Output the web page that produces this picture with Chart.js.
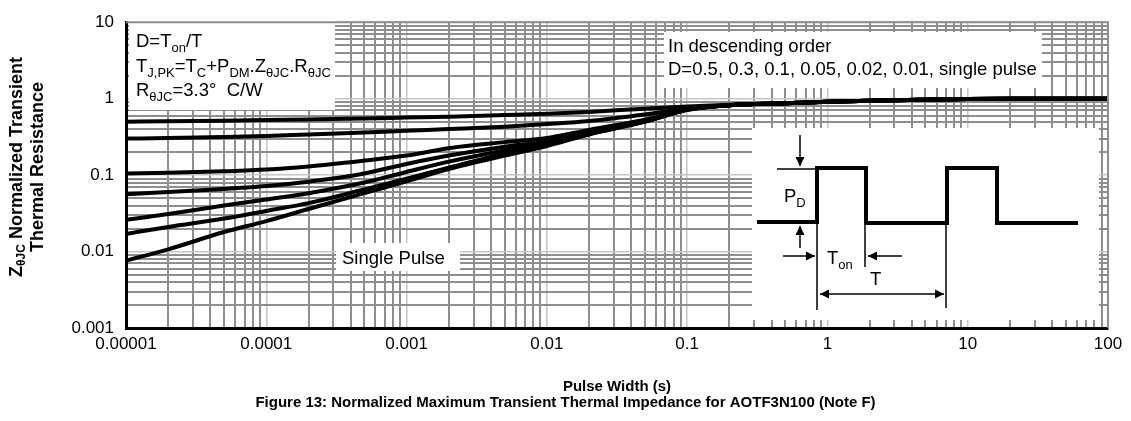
<!DOCTYPE html>
<html>
<head>
<meta charset="utf-8">
<script src="https://cdn.jsdelivr.net/npm/chart.js@4.4.1/dist/chart.umd.min.js"></script>
<style>
  html, body { margin: 0; padding: 0; background: #fff; }
  #chart { display: block; }
</style>
</head>
<body>
<canvas id="chart" width="1131" height="421"></canvas>
<script>
// pulse width (s) and normalized Zth for each duty cycle
const T_PULSE = [1e-5, 2e-5, 5e-5, 1e-4, 2e-4, 5e-4, 1e-3, 2e-3, 5e-3, 1e-2, 2e-2, 5e-2, 0.1, 0.2, 0.5, 1, 2, 5, 10, 20, 50, 100];
const Z_D05    = [0.50, 0.505, 0.515, 0.525, 0.535, 0.55, 0.565, 0.58, 0.61, 0.635, 0.67, 0.74, 0.79, 0.83, 0.87, 0.91, 0.94, 0.97, 0.99, 1.0, 1.0, 1.0];
const Z_D03    = [0.30, 0.305, 0.315, 0.325, 0.34, 0.36, 0.38, 0.40, 0.43, 0.465, 0.51, 0.62, 0.74, 0.82, 0.87, 0.91, 0.94, 0.97, 0.99, 1.0, 1.0, 1.0];
const Z_D01    = [0.105, 0.107, 0.112, 0.118, 0.13, 0.155, 0.18, 0.225, 0.27, 0.305, 0.39, 0.53, 0.72, 0.82, 0.87, 0.91, 0.94, 0.97, 0.99, 1.0, 1.0, 1.0];
const Z_D005   = [0.056, 0.060, 0.066, 0.072, 0.082, 0.105, 0.14, 0.18, 0.235, 0.275, 0.36, 0.51, 0.72, 0.82, 0.87, 0.91, 0.94, 0.97, 0.99, 1.0, 1.0, 1.0];
const Z_D002   = [0.026, 0.031, 0.040, 0.048, 0.058, 0.08, 0.11, 0.15, 0.21, 0.26, 0.35, 0.50, 0.72, 0.82, 0.87, 0.91, 0.94, 0.97, 0.99, 1.0, 1.0, 1.0];
const Z_D001   = [0.017, 0.021, 0.027, 0.034, 0.043, 0.065, 0.09, 0.125, 0.19, 0.245, 0.345, 0.50, 0.72, 0.82, 0.87, 0.91, 0.94, 0.97, 0.99, 1.0, 1.0, 1.0];
const Z_SINGLE = [0.0076, 0.0107, 0.018, 0.025, 0.036, 0.058, 0.083, 0.12, 0.18, 0.24, 0.34, 0.50, 0.71, 0.82, 0.87, 0.91, 0.94, 0.97, 0.99, 1.0, 1.0, 1.0];

const SERIES = [
  ['D=0.5', Z_D05], ['D=0.3', Z_D03], ['D=0.1', Z_D01], ['D=0.05', Z_D005],
  ['D=0.02', Z_D002], ['D=0.01', Z_D001], ['Single Pulse', Z_SINGLE],
];

const X_TICKS = [0.00001, 0.0001, 0.001, 0.01, 0.1, 1, 10, 100];
const X_TICK_LABELS = ['0.00001', '0.0001', '0.001', '0.01', '0.1', '1', '10', '100'];
const Y_TICKS = [0.001, 0.01, 0.1, 1, 10];
const Y_TICK_LABELS = ['0.001', '0.01', '0.1', '1', '10'];

const FONT = 'Arial, "Liberation Sans", sans-serif';

// decade lines plus 2..9 minors
function logGrid(decades) {
  const out = [];
  decades.forEach((d, i) => {
    out.push(d);
    if (i < decades.length - 1) for (let m = 2; m <= 9; m++) out.push(d * m);
  });
  return out;
}
const isDecade = v => Math.abs(Math.log10(v) - Math.round(Math.log10(v))) < 1e-6;

const gridStyle = {
  drawTicks: false,
  color: ctx => (ctx.tick && isDecade(ctx.tick.value)) ? '#c6c6c6' : '#8e8e8e',
  lineWidth: ctx => (ctx.tick && isDecade(ctx.tick.value)) ? 1.5 : 2,
};

// text with subscript runs: parts = [[text, isSub], ...]
function richWidth(c, parts, size, weight) {
  let w = 0;
  parts.forEach(([t, sub]) => {
    c.font = `${weight} ${sub ? Math.round(size * 0.68) : size}px ${FONT}`;
    w += c.measureText(t).width;
  });
  return w;
}
function drawRich(c, x, y, parts, size, weight = '') {
  parts.forEach(([t, sub]) => {
    c.font = `${weight} ${sub ? Math.round(size * 0.68) : size}px ${FONT}`;
    c.fillText(t, x, y + (sub ? size * 0.28 : 0));
    x += c.measureText(t).width;
  });
}
function arrow(c, x1, y1, x2, y2) {
  const a = Math.atan2(y2 - y1, x2 - x1), h = 9, w = 4.5;
  c.beginPath(); c.moveTo(x1, y1); c.lineTo(x2, y2); c.stroke();
  c.beginPath();
  c.moveTo(x2, y2);
  c.lineTo(x2 - h * Math.cos(a) + w * Math.sin(a), y2 - h * Math.sin(a) - w * Math.cos(a));
  c.lineTo(x2 - h * Math.cos(a) - w * Math.sin(a), y2 - h * Math.sin(a) + w * Math.cos(a));
  c.closePath(); c.fill();
}

const decor = {
  id: 'decor',
  beforeDatasetsDraw(chart) {
    const c = chart.ctx;
    c.save();
    c.fillStyle = '#fff';
    // white text panels over the grid
    c.fillRect(129, 21, 206, 89);
    c.fillRect(664, 32, 378, 56);
    c.fillRect(336, 243, 124, 28);
    c.fillRect(752, 128, 347, 192);
    c.restore();
  },
  afterDatasetsDraw(chart) {
    const c = chart.ctx;
    c.save();
    c.fillStyle = '#000';
    c.textBaseline = 'alphabetic';
    c.textAlign = 'left';
    const s = 18.5;
    drawRich(c, 136, 47, [['D=T'], ['on', 1], ['/T']], s);
    drawRich(c, 136, 72, [['T'], ['J,PK', 1], ['=T'], ['C', 1], ['+P'], ['DM', 1], ['.Z'], ['θJC', 1], ['.R'], ['θJC', 1]], s);
    drawRich(c, 136, 96, [['R'], ['θJC', 1], ['=3.3°  C/W']], s);
    drawRich(c, 668, 52, [['In descending order']], s);
    drawRich(c, 668, 75, [['D=0.5, 0.3, 0.1, 0.05, 0.02, 0.01, single pulse']], s);
    drawRich(c, 342, 264, [['Single Pulse']], s);

    // pulse train inset
    c.strokeStyle = '#000';
    c.lineWidth = 4;
    c.lineJoin = 'miter';
    c.beginPath();
    [[757, 222], [817, 222], [817, 168], [866, 168], [866, 223], [947, 223], [947, 168], [997, 168], [997, 223], [1078, 223]]
      .forEach(([x, y], i) => i ? c.lineTo(x, y) : c.moveTo(x, y));
    c.stroke();
    c.lineWidth = 1.5;
    c.beginPath();
    c.moveTo(777, 169); c.lineTo(816, 169);
    c.moveTo(817, 224); c.lineTo(817, 310);
    c.moveTo(865, 224); c.lineTo(865, 267);
    c.moveTo(946, 224); c.lineTo(946, 308);
    c.stroke();
    arrow(c, 800, 135, 800, 166);
    arrow(c, 800, 248, 800, 226);
    arrow(c, 783, 256, 815, 256);
    arrow(c, 902, 256, 868, 256);
    arrow(c, 880, 294, 820, 294);
    arrow(c, 880, 294, 944, 294);
    drawRich(c, 784, 202, [['P'], ['D', 1]], s);
    drawRich(c, 827, 264, [['T'], ['on', 1]], s);
    drawRich(c, 870, 285, [['T']], s);
    c.restore();
  },
  afterDraw(chart) {
    const c = chart.ctx, a = chart.chartArea;
    c.save();
    // grey frame on top and right
    c.strokeStyle = '#8e8e8e';
    c.lineWidth = 2;
    c.beginPath();
    c.moveTo(a.left, a.top); c.lineTo(a.right, a.top); c.lineTo(a.right, a.bottom);
    c.stroke();

    c.fillStyle = '#000';
    c.textBaseline = 'middle';
    // y axis title, two rotated lines
    const ys = 18, cy = 167;
    c.translate(17, cy);
    c.rotate(-Math.PI / 2);
    const l1 = [['Z'], ['θJC', 1], [' Normalized Transient']];
    drawRich(c, -richWidth(c, l1, ys, 'bold') / 2, 0, l1, ys, 'bold');
    const l2 = [['Thermal Resistance']];
    drawRich(c, -richWidth(c, l2, ys, 'bold') / 2, 21, l2, ys, 'bold');
    c.setTransform(1, 0, 0, 1, 0, 0);

    c.textAlign = 'center';
    c.font = `bold 15px ${FONT}`;
    c.fillText('Pulse Width (s)', (a.left + a.right) / 2, 387);
    c.fillText('Figure 13: Normalized Maximum Transient Thermal Impedance for AOTF3N100 (Note F)', chart.width / 2, 403);
    c.restore();
  },
};

new Chart(document.getElementById('chart'), {
  type: 'line',
  data: {
    datasets: SERIES.map(([label, z]) => ({
      label,
      data: T_PULSE.map((t, i) => ({ x: t, y: z[i] })),
      borderColor: '#000',
      borderWidth: 4,
      pointRadius: 0,
      fill: false,
      cubicInterpolationMode: 'monotone',
    })),
  },
  options: {
    responsive: false,
    devicePixelRatio: 1,
    animation: false,
    layout: { padding: { left: 0, right: 23, top: 18, bottom: 0 } },
    plugins: { legend: { display: false }, tooltip: { enabled: false } },
    scales: {
      x: {
        type: 'logarithmic',
        min: 0.00001,
        max: 100,
        afterBuildTicks: s => { s.ticks = logGrid(X_TICKS).map(value => ({ value })); },
        afterFit: s => { s.height = 93; },
        ticks: {
          autoSkip: false,
          maxRotation: 0,
          padding: 6,
          color: '#000',
          font: { family: FONT, size: 17 },
          callback: v => { const i = X_TICKS.indexOf(v); return i >= 0 ? X_TICK_LABELS[i] : ''; },
        },
        grid: gridStyle,
        border: { display: true, color: '#000', width: 3 },
      },
      y: {
        type: 'logarithmic',
        min: 0.001,
        max: 10,
        afterBuildTicks: s => { s.ticks = logGrid(Y_TICKS).map(value => ({ value })); },
        afterFit: s => { s.width = 126; },
        ticks: {
          autoSkip: false,
          padding: 12,
          color: '#000',
          font: { family: FONT, size: 17 },
          callback: v => { const i = Y_TICKS.indexOf(v); return i >= 0 ? Y_TICK_LABELS[i] : ''; },
        },
        grid: gridStyle,
        border: { display: true, color: '#000', width: 3 },
      },
    },
  },
  plugins: [decor],
});
</script>
</body>
</html>
